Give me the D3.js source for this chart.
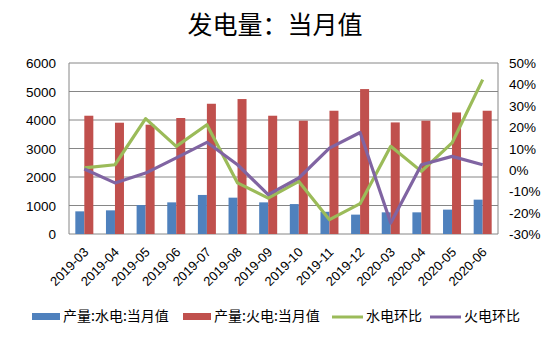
<!DOCTYPE html>
<html><head><meta charset="utf-8">
<script src="https://cdn.jsdelivr.net/npm/d3@7"></script>
<style>body{margin:0;background:#fff}svg{display:block}</style>
</head><body>
<svg id="chart" width="550" height="338"></svg>
<script>
const months = ["2019-03","2019-04","2019-05","2019-06","2019-07","2019-08","2019-09","2019-10","2019-11","2019-12","2020-03","2020-04","2020-05","2020-06"];
const hydro = [795,830,1015,1110,1370,1275,1110,1050,780,680,760,760,855,1205];
const thermal = [4150,3905,3835,4070,4570,4735,4150,3975,4325,5085,3915,3975,4265,4325];
const hydroMoM = [0.9,2.4,24.0,11.0,21.1,-6.1,-13.2,-5.4,-23.3,-15.8,11.0,-0.7,12.6,42.2];
const thermalMoM = [0.4,-6.1,-1.5,5.6,12.9,2.4,-11.6,-3.8,10.2,17.5,-24.9,2.4,6.3,2.4];
const leftTicks = [0,1000,2000,3000,4000,5000,6000];
const rightTicks = [-30,-20,-10,0,10,20,30,40,50];
const seriesNames = ["产量:水电:当月值","产量:火电:当月值","水电环比","火电环比"];
const colors = {hydro:"#4F81BD", thermal:"#C0504D", hydroMoM:"#9BBB59", thermalMoM:"#8064A2"};

const svg = d3.select("#chart");
const L = 69, R = 498, T = 63, B = 234;
const font = "'Liberation Sans', Arial, sans-serif";
const cjk = "'Noto Sans CJK SC', sans-serif";

const x = d3.scaleBand().domain(months).range([L, R]);
const yL = d3.scaleLinear().domain([0, 6000]).range([B, T]);
const yR = d3.scaleLinear().domain([-30, 50]).range([B, T]);

// title
svg.append("text").attr("x", 275).attr("y", 34).attr("text-anchor", "middle")
  .attr("font-family", cjk).attr("font-size", 25)
  .attr("fill", "#000").text("发电量：当月值");

// gridlines
svg.append("g").selectAll("line").data(leftTicks.filter(d => d > 0)).join("line")
  .attr("x1", L).attr("x2", R).attr("y1", d => yL(d)).attr("y2", d => yL(d))
  .attr("stroke", "#868686").attr("stroke-width", 1);

// axis lines
svg.append("line").attr("x1", L).attr("x2", L).attr("y1", T).attr("y2", B).attr("stroke", "#868686");
svg.append("line").attr("x1", R).attr("x2", R).attr("y1", T).attr("y2", B).attr("stroke", "#868686");
svg.append("line").attr("x1", L).attr("x2", R).attr("y1", B).attr("y2", B).attr("stroke", "#868686");

// left tick labels
svg.append("g").selectAll("text").data(leftTicks).join("text")
  .attr("x", 56).attr("y", d => yL(d) + 5).attr("text-anchor", "end")
  .attr("font-family", font).attr("font-size", 13.5).attr("fill", "#000").text(d => d);

// right tick labels
svg.append("g").selectAll("text").data(rightTicks).join("text")
  .attr("x", 509).attr("y", d => yR(d) + 5).attr("text-anchor", "start")
  .attr("font-family", font).attr("font-size", 13.5).attr("fill", "#000").text(d => d + "%");

// x labels
svg.append("g").selectAll("text").data(months).join("text")
  .attr("transform", d => `translate(${x(d) + x.bandwidth()/2 + 5},${B + 19}) rotate(-45)`)
  .attr("text-anchor", "end").attr("font-family", font).attr("font-size", 13)
  .attr("fill", "#000").text(d => d);

// bars
const bw = 9;
svg.append("g").selectAll("rect").data(months).join("rect")
  .attr("x", d => x(d) + x.bandwidth()/2 - bw).attr("width", bw)
  .attr("y", (d, i) => yL(hydro[i])).attr("height", (d, i) => B - yL(hydro[i]))
  .attr("fill", colors.hydro);
svg.append("g").selectAll("rect").data(months).join("rect")
  .attr("x", d => x(d) + x.bandwidth()/2).attr("width", bw)
  .attr("y", (d, i) => yL(thermal[i])).attr("height", (d, i) => B - yL(thermal[i]))
  .attr("fill", colors.thermal);

// lines
const line = d3.line().x((d, i) => x(months[i]) + x.bandwidth()/2).y(d => yR(d));
svg.append("path").datum(hydroMoM).attr("d", line).attr("fill", "none")
  .attr("stroke", colors.hydroMoM).attr("stroke-width", 3.2).attr("stroke-linejoin", "round");
svg.append("path").datum(thermalMoM).attr("d", line).attr("fill", "none")
  .attr("stroke", colors.thermalMoM).attr("stroke-width", 3.2).attr("stroke-linejoin", "round");

// legend
const lg = svg.append("g").attr("font-family", cjk).attr("font-size", 14);
const items = [
  {name: seriesNames[0], color: colors.hydro, type: "rect", x: 32},
  {name: seriesNames[1], color: colors.thermal, type: "rect", x: 183},
  {name: seriesNames[2], color: colors.hydroMoM, type: "line", x: 332},
  {name: seriesNames[3], color: colors.thermalMoM, type: "line", x: 430}
];
items.forEach(it => {
  if (it.type === "rect") {
    lg.append("rect").attr("x", it.x).attr("y", 313).attr("width", 28).attr("height", 7).attr("fill", it.color);
  } else {
    lg.append("line").attr("x1", it.x).attr("x2", it.x + 31).attr("y1", 317).attr("y2", 317)
      .attr("stroke", it.color).attr("stroke-width", 3);
  }
  lg.append("text").attr("x", it.x + (it.type === "rect" ? 31 : 34)).attr("y", 321).attr("fill", "#000").text(it.name);
});
</script>
</body></html>
